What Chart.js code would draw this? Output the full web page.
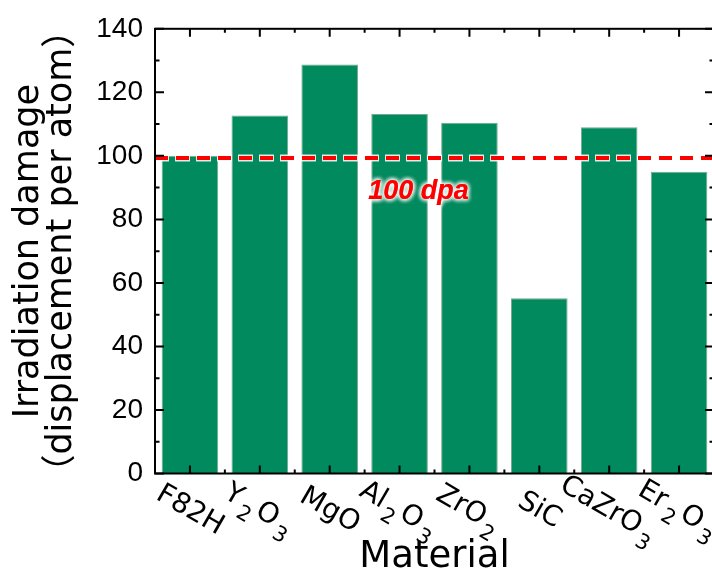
<!DOCTYPE html>
<html><head><meta charset="utf-8">
<script src="https://cdn.jsdelivr.net/npm/chart.js@4"></script>
<style>html,body{margin:0;padding:0;overflow:hidden;background:#fff}#wrap{width:712px;height:578px;overflow:hidden;position:relative}canvas{display:block}</style>
</head><body><div id="wrap"><canvas id="c" width="720" height="578"></canvas></div>
<script>
const categories = ['F82H','Y_2O_3','MgO','Al_2O_3','ZrO_2','SiC','CaZrO_3','Er_2O_3'];
const damageValues = [100.0, 112.7, 128.8, 113.2, 110.4, 55.2, 109.0, 95.0];
const yTickValues = [0, 20, 40, 60, 80, 100, 120, 140];
const thresholdValue = 99.3;
const thresholdLabel = '100 dpa';
const yTitleLines = ['Irradiation damage', '（displacement per atom）'];
const xTitle = 'Material';

const TEXT_FONT = '"DejaVu Sans", "Noto Sans CJK JP", sans-serif';
const plainLabels = categories.map(s => s.replace(/_/g, ''));

function parseParts(s){
  const parts = [];
  for (let i = 0; i < s.length; i++){
    if (s[i] === '_'){ parts.push([s[i+1], true]); i++; }
    else parts.push([s[i], false]);
  }
  return parts;
}

const decor = {
  id: 'decor',
  afterDatasetsDraw(chart){
    const {ctx, chartArea: a, scales: {x, y}} = chart;
    const ly = y.getPixelForValue(thresholdValue);
    ctx.save();
    ctx.lineCap = 'butt';
    ctx.beginPath(); ctx.moveTo(a.left - 1, ly); ctx.lineTo(a.right, ly);
    ctx.setLineDash([15, 6]); ctx.lineDashOffset = 0;
    ctx.strokeStyle = 'rgba(255,255,255,0.85)'; ctx.lineWidth = 7; ctx.stroke();
    ctx.beginPath(); ctx.moveTo(a.left, ly); ctx.lineTo(a.right, ly);
    ctx.setLineDash([13, 8]);
    ctx.strokeStyle = '#ff0000'; ctx.lineWidth = 4; ctx.stroke();
    ctx.setLineDash([]);
    const tx = x.getPixelForValue(3.27), ty = y.getPixelForValue(88.9);
    ctx.font = 'italic bold 27px "Liberation Sans", Arial, sans-serif';
    ctx.textAlign = 'center'; ctx.textBaseline = 'middle';
    ctx.shadowColor = '#ffffff'; ctx.shadowBlur = 5;
    ctx.fillStyle = '#ff0000';
    for (let k = 0; k < 4; k++) ctx.fillText(thresholdLabel, tx, ty);
    ctx.restore();
  },
  afterDraw(chart){
    const {ctx, chartArea: a, scales: {x, y}} = chart;
    ctx.save();
    ctx.strokeStyle = '#000'; ctx.lineWidth = 2;
    ctx.strokeRect(a.left, a.top, a.right - a.left, a.bottom - a.top);
    ctx.beginPath();
    for (let v = 0; v <= 140; v += 10){
      const py = y.getPixelForValue(v);
      const len = (v % 20 === 0) ? 9 : 4.5;
      ctx.moveTo(a.left, py); ctx.lineTo(a.left + len, py);
      ctx.moveTo(a.right, py); ctx.lineTo(a.right - len, py);
    }
    for (let i = 0; i < categories.length; i++){
      const px = x.getPixelForValue(i);
      ctx.moveTo(px, a.bottom); ctx.lineTo(px, a.bottom - 8);
      ctx.moveTo(px, a.top); ctx.lineTo(px, a.top + 8);
      if (i < categories.length - 1){
        const pm = x.getPixelForValue(i + 0.5);
        ctx.moveTo(pm, a.bottom); ctx.lineTo(pm, a.bottom - 4);
        ctx.moveTo(pm, a.top); ctx.lineTo(pm, a.top + 4);
      }
    }
    ctx.stroke();
    const mainFont = '28px ' + TEXT_FONT, subFont = '21px ' + TEXT_FONT;
    ctx.fillStyle = '#000';
    ctx.textBaseline = 'middle'; ctx.textAlign = 'left';
    categories.forEach((lab, i) => {
      const parts = parseParts(lab);
      let w = 0;
      const widths = parts.map(([ch, sub]) => {
        ctx.font = sub ? subFont : mainFont;
        const ww = ctx.measureText(ch).width + (sub ? 6 : 0);
        w += ww; return ww;
      });
      const px = x.getPixelForValue(i), py = a.bottom + 37;
      ctx.save();
      ctx.translate(px, py);
      ctx.rotate(Math.PI / 6);
      let cx = -w / 2;
      parts.forEach(([ch, sub], k) => {
        ctx.font = sub ? subFont : mainFont;
        ctx.fillText(ch, cx + (sub ? 3 : 0), sub ? 12 : 0);
        cx += widths[k];
      });
      ctx.restore();
    });
    ctx.restore();
  }
};

new Chart(document.getElementById('c'), {
  type: 'bar',
  data: {
    labels: plainLabels,
    datasets: [{
      data: damageValues,
      backgroundColor: '#008a5d',
      borderColor: '#74a990',
      borderWidth: 1,
      barPercentage: 0.81,
      categoryPercentage: 1.0
    }]
  },
  options: {
    responsive: false,
    animation: false,
    layout: { padding: { left: 0, top: 22, right: 6, bottom: 0 } },
    plugins: { legend: { display: false }, tooltip: { enabled: false } },
    scales: {
      x: {
        grid: { display: false, drawTicks: false },
        border: { display: false },
        ticks: { display: false },
        title: { display: true, text: xTitle, color: '#000', font: { family: TEXT_FONT, size: 37 }, padding: { top: 0, bottom: -2 } },
        afterFit: s => { s.height = 104.5; }
      },
      y: {
        min: 0, max: 140,
        grid: { display: false, drawTicks: false },
        border: { display: false },
        afterBuildTicks: s => { s.ticks = yTickValues.map(v => ({ value: v })); },
        ticks: { color: '#000', padding: 12, font: { family: '"Liberation Sans", Arial, sans-serif', size: 28 } },
        title: { display: true, text: yTitleLines, color: '#000', font: { family: TEXT_FONT, size: 35, lineHeight: 0.93 }, padding: { top: 13, bottom: 0 } },
        afterFit: s => { s.width = 155; }
      }
    }
  },
  plugins: [decor]
});
</script>
</body></html>
